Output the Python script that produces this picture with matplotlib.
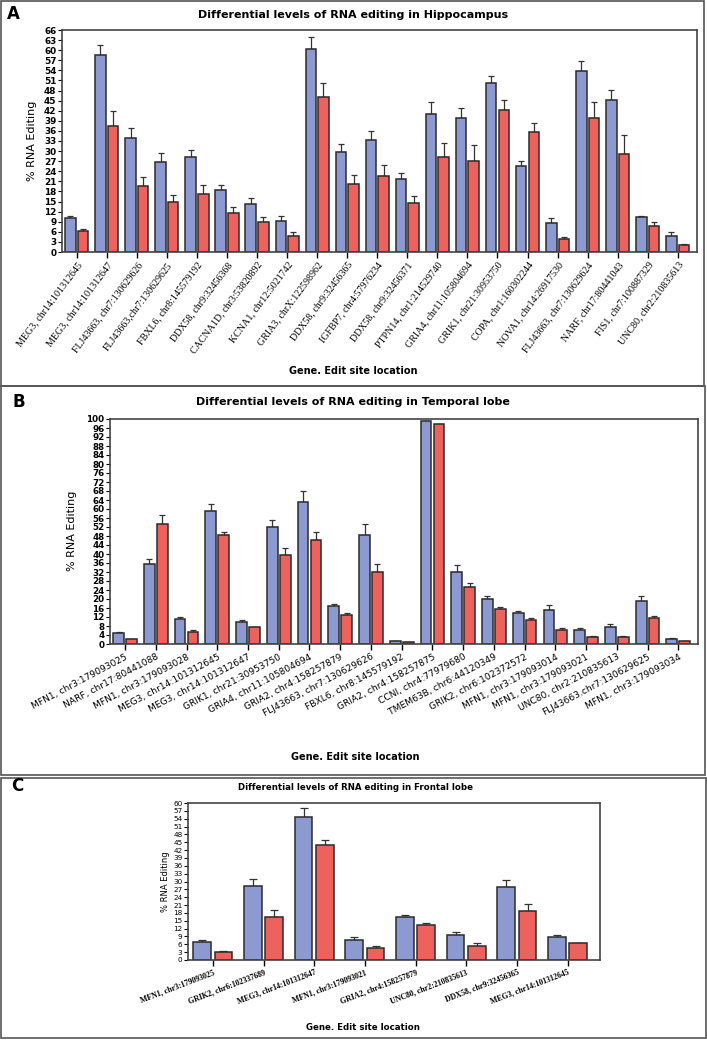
import numpy as np
import matplotlib
matplotlib.use("Agg")
import matplotlib.pyplot as plt
from matplotlib.patches import Rectangle

# colours
BLUE = "#8D9AD2"
RED = "#EE625E"
EDGE = "#2b2b2b"

# ---- panel A : Hippocampus ----
sites_a = ["MEG3, chr14:101312645", "MEG3, chr14:101312647", "FLJ43663, chr7:130629626",
           "FLJ43663,chr7:130629625", "FBXL6, chr8:145579192", "DDX58, chr9:32456368",
           "CACNA1D, chr3:53820892", "KCNA1, chr12:5021742", "GRIA3, chrX:122598962",
           "DDX58, chr9:32456365", "IGFBP7, chr4:57976234", "DDX58, chr9:32456371",
           "PTPN14, chr1:214529740", "GRIA4, chr11:105804694", "GRIK1, chr21:30953750",
           "COPA, chr1:160302244", "NOVA1, chr14:26917530", "FLJ43663, chr7:130629624",
           "NARF, chr17:80441043", "FIS1, chr7:100887329", "UNC80, chr2:210835613"]
blue_a = [10.0, 58.7, 34.0, 26.8, 28.1, 18.5, 14.2, 9.3, 60.5, 29.6, 33.3,
          21.7, 40.9, 39.8, 50.3, 25.6, 8.7, 53.8, 45.2, 10.3, 4.8]
blue_a_err = [0.7, 2.8, 3.0, 2.7, 2.3, 1.5, 1.8, 1.5, 3.5, 2.4, 2.7,
              1.9, 3.6, 2.9, 2.1, 1.4, 1.4, 3.0, 3.1, 0.5, 1.1]
red_a = [6.3, 37.6, 19.5, 14.9, 17.3, 11.7, 8.8, 4.7, 46.0, 20.1, 22.5,
         14.5, 28.2, 27.2, 42.3, 35.7, 3.8, 39.8, 29.2, 7.8, 2.1]
red_a_err = [0.6, 4.4, 2.7, 2.1, 2.7, 1.8, 1.5, 1.1, 4.3, 2.9, 3.3,
             2.1, 4.1, 4.5, 2.8, 2.8, 0.7, 4.8, 5.7, 1.0, 0.3]

# ---- panel B : Temporal lobe ----
sites_b = ["MFN1, chr3:179093025", "NARF, chr17:80441088", "MFN1, chr3:179093028",
           "MEG3, chr14:101312645", "MEG3, chr14:101312647", "GRIK1, chr21:30953750",
           "GRIA4, chr11:105804694", "GRIA2, chr4:158257879", "FLJ43663, chr7:130629626",
           "FBXL6, chr8:145579192", "GRIA2, chr4:158257875", "CCNI, chr4:77979680",
           "TMEM63B, chr6:44120349", "GRIK2, chr6:102372572", "MFN1, chr3:179093014",
           "MFN1, chr3:179093021", "UNC80, chr2:210835613", "FLJ43663.chr7:130629625",
           "MFN1, chr3:179093034"]
blue_b = [5.0, 35.5, 11.0, 59.0, 10.0, 52.2, 63.0, 17.0, 48.3, 1.4,
          99.0, 32.1, 19.9, 13.9, 15.3, 6.4, 7.5, 19.3, 2.3]
blue_b_err = [0.4, 2.4, 1.2, 3.1, 0.6, 2.9, 4.8, 0.6, 4.9, 0.0,
              0.0, 2.8, 1.6, 0.9, 2.0, 0.7, 1.2, 2.1, 0.2]
red_b = [2.2, 53.5, 5.3, 48.3, 7.4, 39.5, 46.3, 13.0, 32.1, 0.8,
         97.9, 25.4, 15.4, 10.8, 6.4, 3.1, 3.0, 11.4, 1.2]
red_b_err = [0.2, 3.7, 1.1, 1.6, 0.3, 3.0, 3.3, 0.9, 3.4, 0.0,
             0.0, 1.5, 1.2, 0.8, 0.8, 0.4, 0.6, 1.2, 0.1]

# ---- panel C : Frontal lobe ----
sites_c = ["MFN1, chr3:179093025", "GRIK2, chr6:102337689", "MEG3, chr14:101312647",
           "MFN1, chr3:179093021", "GRIA2, chr4:158257879", "UNC80, chr2:210835613",
           "DDX58, chr9:32456365", "MEG3, chr14:101312645"]
blue_c = [6.75, 28.3, 54.6, 7.8, 16.4, 9.6, 27.8, 8.9]
blue_c_err = [0.75, 2.7, 3.4, 1.0, 0.7, 1.2, 2.8, 0.7]
red_c = [3.1, 16.3, 43.8, 4.6, 13.4, 5.5, 18.7, 6.4]
red_c_err = [0.5, 2.8, 2.1, 0.8, 0.7, 1.0, 2.7, 0.2]

W, H = 707, 1040
fig = plt.figure(figsize=(W / 100, H / 100), dpi=100)


def fx(px):
    return px / W


def fy(py):
    return 1 - py / H


def panel(box, blue, blue_err, red, red_err, labels, ymax, ystep,
          rot, lab_font, lab_size, lab_weight, ytick_size, ytick_weight, cap, lw):
    l, t, r, b = box
    ax = fig.add_axes([fx(l), fy(b), fx(r - l), (b - t) / H])
    x = np.arange(len(labels))
    ax.bar(x - 0.21, blue, 0.35, color=BLUE, edgecolor=EDGE, linewidth=lw, zorder=2)
    ax.bar(x + 0.21, red, 0.35, color=RED, edgecolor=EDGE, linewidth=lw, zorder=2)
    ax.errorbar(x - 0.21, blue, yerr=[np.zeros(len(x)), blue_err], fmt="none",
                ecolor="#333333", elinewidth=0.9, capsize=cap, capthick=0.9, zorder=1)
    ax.errorbar(x + 0.21, red, yerr=[np.zeros(len(x)), red_err], fmt="none",
                ecolor="#333333", elinewidth=0.9, capsize=cap, capthick=0.9, zorder=1)
    ax.set_xlim(-0.49, len(x) - 1 + 0.64)
    ax.set_ylim(0, ymax)
    ax.set_yticks(np.arange(0, ymax + 1, ystep))
    ax.tick_params(axis="y", labelsize=ytick_size, length=3, width=0.8, pad=1)
    for lbl in ax.get_yticklabels():
        lbl.set_fontweight(ytick_weight)
    ax.set_xticks(x)
    ax.set_xticklabels(labels, rotation=rot, ha="right", va="top",
                       rotation_mode="anchor", family=lab_font,
                       fontsize=lab_size, fontweight=lab_weight)
    ax.tick_params(axis="x", length=4, width=1.0, pad=2)
    for s in ax.spines.values():
        s.set_color("#444444")
        s.set_linewidth(1.2)
    return ax


# A
panel((62, 30, 697, 252), blue_a, blue_a_err, red_a, red_a_err, sites_a,
      66, 3, 53, "Liberation Serif", 7.2, "normal", 6.4, "bold", 2.2, 1.1)
fig.text(fx(353), fy(15), "Differential levels of RNA editing in Hippocampus",
         ha="center", va="center", fontsize=8, fontweight="bold")
fig.text(fx(7), fy(14), "A", ha="left", va="center", fontsize=12, fontweight="bold")
fig.text(fx(32), fy(141), "% RNA Editing", rotation=90, ha="center", va="center", fontsize=8)
fig.text(fx(353), fy(371), "Gene. Edit site location", ha="center", va="center",
         fontsize=7, fontweight="bold")

# B
panel((110, 419, 698, 644), blue_b, blue_b_err, red_b, red_b_err, sites_b,
      100, 4, 28, "DejaVu Sans", 6.6, "normal", 6.3, "bold", 2.2, 1.1)
fig.text(fx(353), fy(402), "Differential levels of RNA editing in Temporal lobe",
         ha="center", va="center", fontsize=8, fontweight="bold")
fig.text(fx(13), fy(402), "B", ha="left", va="center", fontsize=12, fontweight="bold")
fig.text(fx(72), fy(531), "% RNA Editing", rotation=90, ha="center", va="center", fontsize=8)
fig.text(fx(355), fy(757), "Gene. Edit site location", ha="center", va="center",
         fontsize=7, fontweight="bold")

# C
panel((188, 803, 600, 960), blue_c, blue_c_err, red_c, red_c_err, sites_c,
      60, 3, 21, "Liberation Serif", 5.7, "bold", 5.2, "normal", 3, 1.1)
fig.text(fx(355), fy(788), "Differential levels of RNA editing in Frontal lobe",
         ha="center", va="center", fontsize=6.2, fontweight="bold")
fig.text(fx(11), fy(786), "C", ha="left", va="center", fontsize=12, fontweight="bold")
fig.text(fx(166), fy(882), "% RNA Editing", rotation=90, ha="center", va="center", fontsize=6)
fig.text(fx(363), fy(1028), "Gene. Edit site location", ha="center", va="center",
         fontsize=6.2, fontweight="bold")

# panel frames
for (l, t, r, b) in [(1, 1, 704, 386), (1, 386, 705, 775), (1, 778, 706, 1038)]:
    fig.add_artist(Rectangle((fx(l), fy(b)), fx(r - l), (b - t) / H,
                             transform=fig.transFigure, fill=False,
                             edgecolor="#555555", linewidth=1.2))

fig.savefig("out.png", dpi=100)
